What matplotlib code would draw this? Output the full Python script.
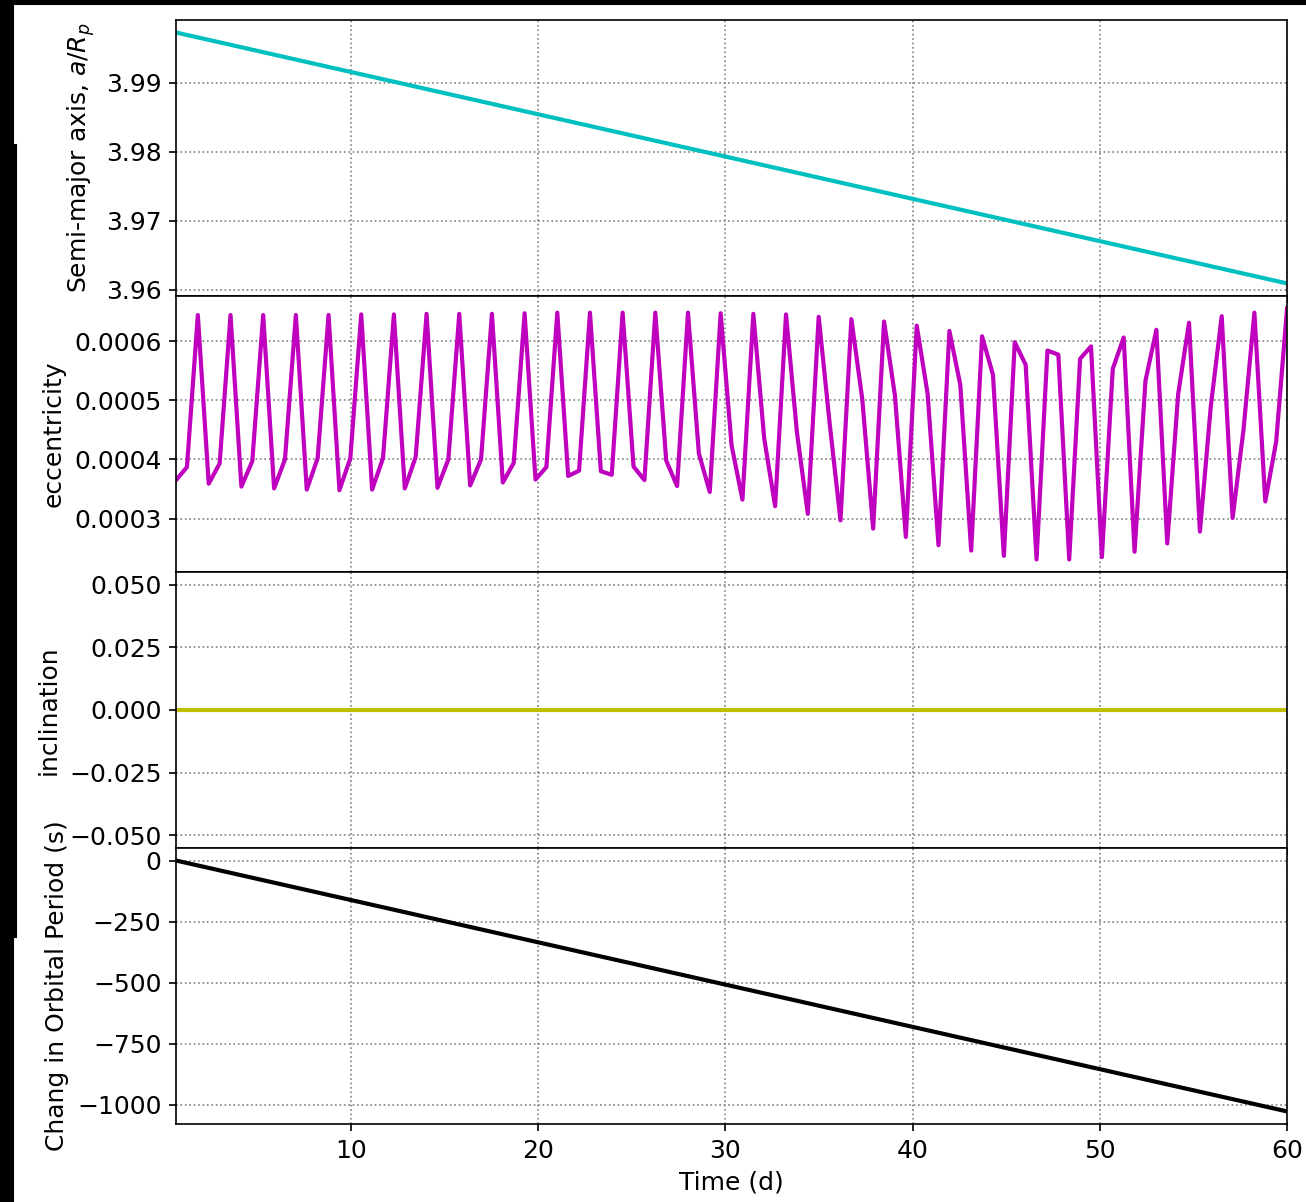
## Orbital evolution plot: semi-major axis, eccentricity, inclination and period change
import matplotlib.pyplot as plt
from matplotlib.patches import Rectangle
import numpy as np

plt.rcParams['font.size'] = 12

#############################################################
# Data
# time of first and last sample (days), samples are evenly spaced
t_first = 0.65
t_last = 60.0

# eccentricity at every sample (units of 1e-4)
ecc_e4 = [3.65, 3.87, 6.44, 3.59, 3.93, 6.44, 3.54, 3.97, 6.44, 3.51,
          4.00, 6.44, 3.49, 4.02, 6.44, 3.48, 4.02, 6.45, 3.49, 4.02,
          6.45, 3.51, 4.04, 6.46, 3.52, 4.00, 6.46, 3.56, 4.00, 6.46,
          3.61, 3.94, 6.47, 3.66, 3.87, 6.48, 3.72, 3.81, 6.48, 3.80,
          3.74, 6.48, 3.88, 3.65, 6.48, 3.98, 3.55, 6.48, 4.10, 3.45,
          6.47, 4.24, 3.32, 6.46, 4.35, 3.21, 6.45, 4.46, 3.08, 6.41,
          4.62, 2.97, 6.37, 5.02, 2.83, 6.33, 5.08, 2.69, 6.26, 5.11,
          2.55, 6.17, 5.26, 2.46, 6.08, 5.43, 2.37, 5.98, 5.60, 2.31,
          5.84, 5.77, 2.31, 5.70, 5.91, 2.35, 5.53, 6.06, 2.44, 5.33,
          6.19, 2.58, 5.10, 6.31, 2.78, 4.90, 6.42, 3.01, 4.50, 6.48,
          3.29, 4.30, 6.55]

# semi-major axis (a/Rp) and change in period (s) are straight lines: start and end values
a_ends = [3.9973, 3.9609]
dP_ends = [0.0, -1028.0]
# inclination stays at zero
inc_ends = [0.0, 0.0]

time = np.linspace(t_first, t_last, len(ecc_e4))
ecc = np.array(ecc_e4) * 1e-4
t_ends = [t_first, t_last]

#############################################################
# Make the figure
fig, ax = plt.subplots(nrows=4, sharex=True, figsize=(1306/150, 1202/150), dpi=150)
fig.subplots_adjust(left=0.1348, right=0.9855, top=0.9834, bottom=0.0649, hspace=0)

ax[0].plot(t_ends, a_ends, 'c-', lw=2)
ax[0].set_ylabel(r'Semi-major axis, $a/R_p$')
ax[1].plot(time, ecc, 'm-', lw=2)
ax[1].set_ylabel('eccentricity')
ax[2].plot(t_ends, inc_ends, 'y-', lw=2)
ax[2].set_ylabel('inclination')
ax[3].plot(t_ends, dP_ends, 'k-', lw=2)
ax[3].set_ylabel('Chang in Orbital Period (s)')
ax[3].set_xlabel('Time (d)')
ax[3].set_xlim(t_first, t_last)

for a in ax:
    a.grid(which='both', color='gray', linestyle='dotted')

# dark border strips seen along the top and left edge of the original picture
for (x0, y0, w, h) in [(0, 1198, 1306, 4), (0, 0, 13, 1202), (13, 265, 3, 792)]:
    fig.patches.append(Rectangle((x0/1306, y0/1202), w/1306, h/1202,
                                 transform=fig.transFigure, color='k', zorder=10))

fig.savefig('out.png', dpi=150)
